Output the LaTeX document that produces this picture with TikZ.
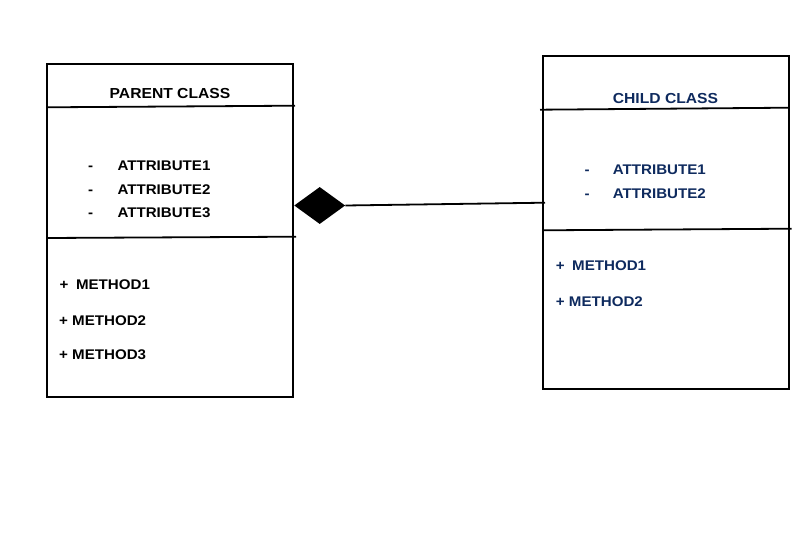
\documentclass[tikz,border=0pt]{standalone}
\usepackage{fontspec}
\setmainfont{Liberation Sans}[FakeStretch=1.08]
\usepackage{xcolor}
\usetikzlibrary{shapes.geometric}
\definecolor{darkblue}{HTML}{0E2A5E}

\begin{document}
\begin{tikzpicture}[x=1pt,y=-1pt]
  \tikzset{classbox/.style={draw,line width=1.8pt,minimum width=246pt,minimum height=333pt,inner sep=0pt}}
  \tikzset{divider/.style={line width=1.8pt}}
  \tikzset{member/.style={anchor=base west,inner sep=0pt,font=\bfseries\fontsize{14}{16}\selectfont}}
  \tikzset{title/.style={anchor=base,inner sep=0pt,font=\bfseries\fontsize{14.5}{17}\selectfont}}
  \useasboundingbox (0,0) rectangle (812,551);
  % parent class
  \node[classbox] (parent) at (170.3,230.7) {};
  \coordinate (pdivA1) at (47.3,107.3);
  \coordinate (pdivA2) at (295,105.7);
  \coordinate (pdivB1) at (47.3,238);
  \coordinate (pdivB2) at (296,236.7);
  \draw[divider] (pdivA1) -- (pdivA2);
  \draw[divider] (pdivB1) -- (pdivB2);
  \node[title] (ptitle) at (170,98.7) {PARENT CLASS};
  \foreach \y/\i in {170.7/1,194.3/2,217.7/3} {
    \node[member] (pdash\i) at (88,\y) {-};
    \node[member] (pattr\i) at (117.3,\y) {ATTRIBUTE\i};
  }
  \node[member] (pmeth1) at (59.5,289.3) {+\hspace{7.5pt}METHOD1};
  \node[member] (pmeth2) at (59,325.7) {+ METHOD2};
  \node[member] (pmeth3) at (59,359) {+ METHOD3};
  % child class
  \node[classbox] (child) at (665.9,222.7) {};
  \coordinate (cdivA1) at (540,109.7);
  \coordinate (cdivA2) at (789,107.7);
  \coordinate (cdivB1) at (543,230.3);
  \coordinate (cdivB2) at (791.7,228.7);
  \draw[divider] (cdivA1) -- (cdivA2);
  \draw[divider] (cdivB1) -- (cdivB2);
  \node[title,darkblue] (ctitle) at (665.5,103.3) {CHILD CLASS};
  \foreach \y/\i in {174.3/1,198.3/2} {
    \node[member,darkblue] (cdash\i) at (584.3,\y) {-};
    \node[member,darkblue] (cattr\i) at (612.7,\y) {ATTRIBUTE\i};
  }
  \node[member,darkblue] (cmeth1) at (555.7,270.3) {+\hspace{7.5pt}METHOD1};
  \node[member,darkblue] (cmeth2) at (555.7,306) {+ METHOD2};
  % aggregation
  \node[diamond,fill,inner sep=0pt,minimum width=51pt,minimum height=37pt] (agg) at (319.7,205.5) {};
  \coordinate (childend) at (545,202.7);
  \draw[divider] (agg.east) -- (childend);
\end{tikzpicture}
\end{document}
